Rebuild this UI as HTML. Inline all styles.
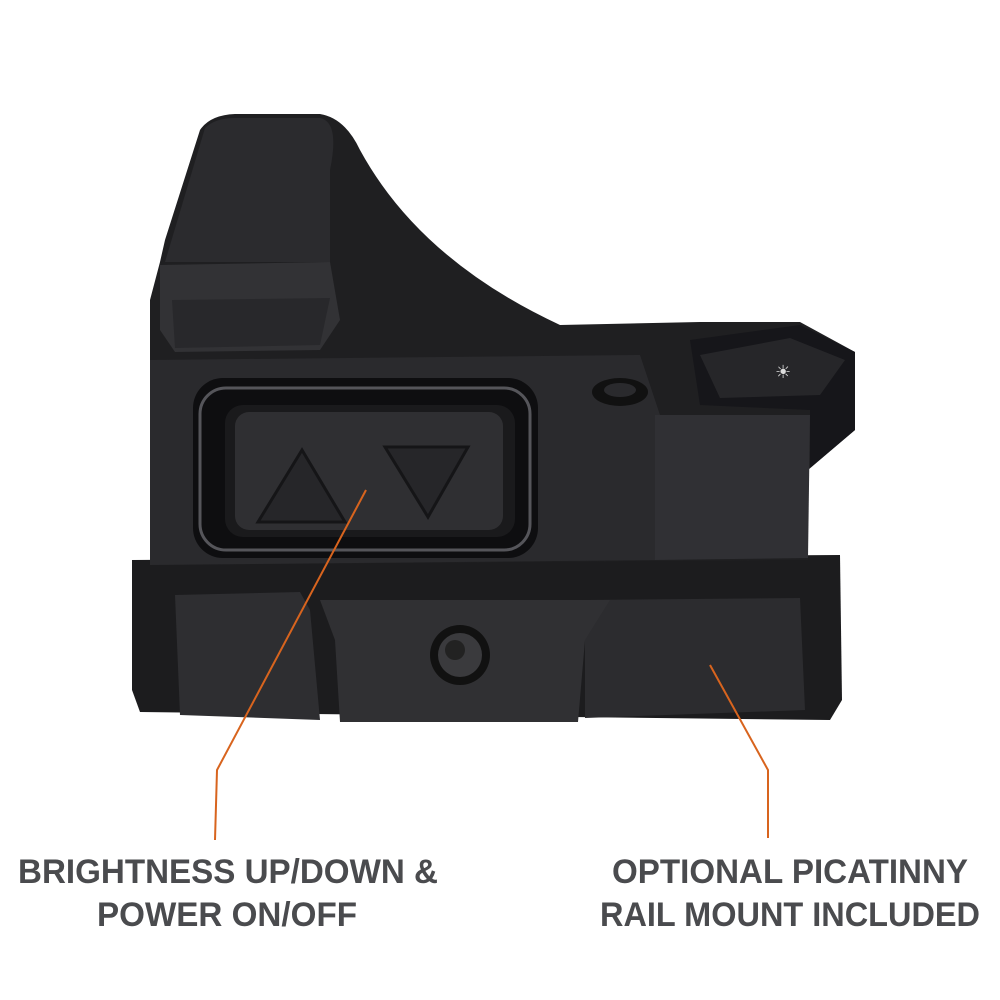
<!DOCTYPE html>
<html><head><meta charset="utf-8"><style>
html,body{margin:0;padding:0;background:#fff;}
svg{display:block;}
</style></head><body>
<svg width="1000" height="1000" viewBox="0 0 1000 1000" xmlns="http://www.w3.org/2000/svg">
<rect width="1000" height="1000" fill="#ffffff"/>
<!-- base rail -->
<path d="M132 560 L840 555 L842 700 L830 720 L140 712 L132 690 Z" fill="#1c1c1e"/>
<path d="M175 595 L300 592 L310 610 L320 720 L180 715 Z" fill="#2e2e31"/>
<path d="M585 600 L800 598 L805 710 L585 718 Z" fill="#2c2c2f"/>
<path d="M320 600 L610 600 L585 640 L578 722 L340 722 L335 640 Z" fill="#303033"/>
<circle cx="460" cy="655" r="30" fill="#111"/>
<circle cx="460" cy="655" r="22" fill="#3a3a3d"/>
<circle cx="455" cy="650" r="10" fill="#222"/>
<!-- main body -->
<path d="M160 262 L165 240 L200 130 Q210 115 235 114 L320 114 Q345 118 360 150 Q420 260 560 325 L700 322 L800 322 L855 352 L855 430 L808 470 L808 560 L150 565 L150 300 Z" fill="#1f1f21"/>
<!-- hood face -->
<path d="M165 262 L205 128 Q215 118 235 118 L320 118 Q340 122 330 170 L330 262 Z" fill="#2b2b2e"/>
<path d="M160 265 L330 262 L340 320 L320 350 L175 352 L160 330 Z" fill="#323235"/>
<path d="M172 300 L330 298 L320 345 L175 348 Z" fill="#28282b"/>
<!-- side panel -->
<path d="M150 360 L640 355 L660 415 L655 560 L150 565 Z" fill="#2a2a2d"/>
<!-- rear block -->
<path d="M655 415 L810 415 L808 558 L655 560 Z" fill="#303034"/>
<path d="M690 340 L800 325 L855 352 L855 430 L810 468 L810 410 L700 405 Z" fill="#16161a"/>
<path d="M700 355 L790 338 L845 360 L820 395 L720 398 Z" fill="#262629"/>
<text x="775" y="378" font-family="Liberation Sans, sans-serif" font-size="18" fill="#ddd">☀</text>
<ellipse cx="620" cy="392" rx="28" ry="14" fill="#111"/>
<ellipse cx="620" cy="390" rx="16" ry="7" fill="#2a2a2d"/>
<!-- button recess -->
<rect x="193" y="378" width="345" height="180" rx="30" fill="#0e0e10"/>
<rect x="200" y="388" width="330" height="162" rx="26" fill="none" stroke="#55555a" stroke-width="3"/>
<rect x="225" y="405" width="290" height="132" rx="18" fill="#1a1a1c"/>
<rect x="235" y="412" width="268" height="118" rx="14" fill="#2f2f32"/>
<polygon points="258,522 345,522 302,450" fill="#262629" stroke="#151517" stroke-width="3"/>
<polygon points="385,447 468,447 428,517" fill="#262629" stroke="#151517" stroke-width="3"/>
<!-- leader lines -->
<polyline points="215,840 217,770 366,490" fill="none" stroke="#d8641e" stroke-width="2"/>
<polyline points="768,838 768,770 710,665" fill="none" stroke="#d8641e" stroke-width="2"/>
<!-- labels -->
<g font-family="Liberation Sans, sans-serif" font-weight="bold" font-size="34" fill="#4a4b4e">
<text x="18" y="883" textLength="420" lengthAdjust="spacingAndGlyphs">BRIGHTNESS UP/DOWN &amp;</text>
<text x="97" y="926" textLength="260" lengthAdjust="spacingAndGlyphs">POWER ON/OFF</text>
<text x="612" y="883" textLength="356" lengthAdjust="spacingAndGlyphs">OPTIONAL PICATINNY</text>
<text x="600" y="926" textLength="380" lengthAdjust="spacingAndGlyphs">RAIL MOUNT INCLUDED</text>
</g>
</svg>
</body></html>
